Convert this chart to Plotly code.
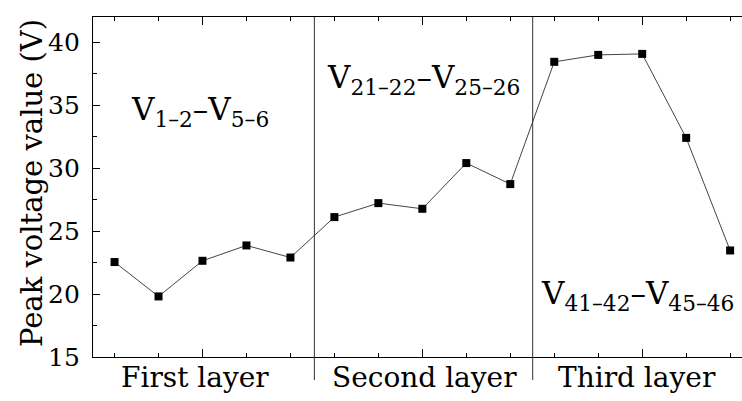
import plotly.graph_objects as go

# Data
positions = list(range(1, 16))
peak_voltage = [22.54, 19.81, 22.64, 23.86, 22.90,
                26.11, 27.22, 26.77, 30.40, 28.73,
                38.44, 38.99, 39.07, 32.40, 23.46]
layer_labels = ["First layer", "Second layer", "Third layer"]
pair_labels = ["V<sub>1–2</sub>–V<sub>5–6</sub>",
               "V<sub>21–22</sub>–V<sub>25–26</sub>",
               "V<sub>41–42</sub>–V<sub>45–46</sub>"]
y_title = "Peak voltage value (V)"

FONT = "DejaVu Serif"

fig = go.Figure()
fig.add_trace(go.Scatter(
    x=positions, y=peak_voltage, mode="lines+markers",
    line=dict(color="#444444", width=1),
    marker=dict(symbol="square", size=8, color="black"),
    showlegend=False,
))

# layer dividers
for xd in [5.545, 10.51]:
    fig.add_shape(type="line", xref="x", yref="paper", x0=xd, x1=xd, y0=-0.068, y1=1,
                  line=dict(color="#333333", width=1))

# layer labels under the axis
layer_x = [2.83, 8.06, 12.88]
for lx, lab in zip(layer_x, layer_labels):
    fig.add_annotation(x=lx, y=0, xref="x", yref="paper", text=lab, showarrow=False,
                       xanchor="center", yanchor="top", yshift=-2,
                       font=dict(family=FONT, size=28, color="black"))

# pair annotations
pair_pos = [(1.33, 34.5), (5.79, 37.0), (10.65, 19.85)]
for (px, py), lab in zip(pair_pos, pair_labels):
    fig.add_annotation(x=px, y=py, xref="x", yref="y", text=lab, showarrow=False,
                       xanchor="left", yanchor="middle",
                       font=dict(family=FONT, size=31, color="black"))

# y title
fig.add_annotation(x=0, y=0.5, xref="paper", yref="paper", text=y_title, showarrow=False,
                   textangle=-90, xanchor="center", yanchor="middle", xshift=-61, yshift=4,
                   font=dict(family=FONT, size=29, color="black"))

fig.update_xaxes(range=[0.51, 15.27], showgrid=False, zeroline=False,
                 showline=True, linecolor="black", linewidth=1.2, mirror="ticks",
                 ticks="inside", tick0=3, dtick=5, ticklen=8, tickcolor="black", tickwidth=1,
                 minor=dict(ticks="inside", tick0=1, dtick=1, ticklen=4, tickcolor="black", tickwidth=1),
                 showticklabels=False, automargin=False)
fig.update_yaxes(range=[15, 42], showgrid=False, zeroline=False,
                 showline=True, linecolor="black", linewidth=1.2, mirror=False,
                 ticks="inside", tick0=15, dtick=5, ticklen=7, tickcolor="black", tickwidth=1,
                 minor=dict(ticks="inside", dtick=2.5, ticklen=4, tickcolor="black", tickwidth=1),
                 ticklabelstandoff=7, automargin=False,
                 tickfont=dict(family=FONT, size=25, color="black"))

fig.update_layout(width=742, height=401, margin=dict(l=93, r=0, t=17, b=44),
                  plot_bgcolor="white", paper_bgcolor="white",
                  font=dict(family=FONT, color="black"))

fig.write_html("out.html", config={"displayModeBar": False},
               post_script="document.body.style.margin='0';document.body.style.overflow='hidden';")
